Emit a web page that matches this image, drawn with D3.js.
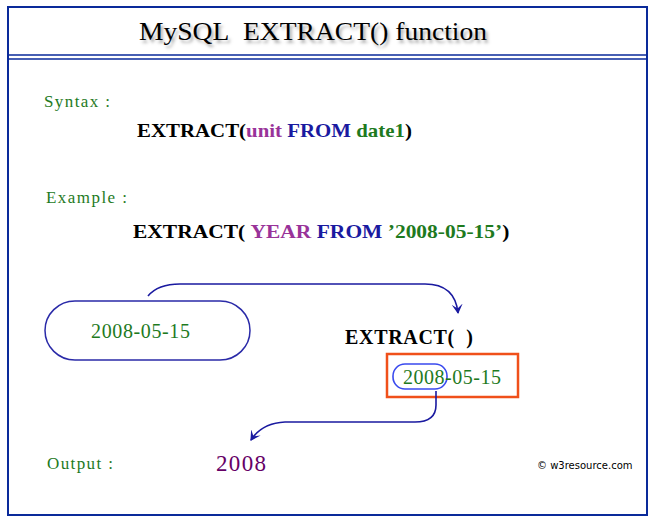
<!DOCTYPE html>
<html><head><meta charset="utf-8">
<script src="https://cdn.jsdelivr.net/npm/d3@7"></script>
<style>body{margin:0;background:#fff} svg text{font-family:"Liberation Serif","Times New Roman",serif}</style>
</head><body>
<script>
// text pieces of the diagram
const titleText = ["MySQL\u00a0\u00a0EXTRACT() function"];
const labels = [
  {t: "Syntax :", x: 44, y: 107, c: "#1e7a1e", s: 17, w: 66},
  {t: "Example :", x: 46, y: 203, c: "#1e7a1e", s: 17, w: 81},
  {t: "Output :", x: 47, y: 469, c: "#1e7a1e", s: 17, w: 66}
];
const syntaxParts = [["EXTRACT(", "#000"], ["unit ", "#993399"], ["FROM ", "#1a1aa0"], ["date1", "#1e7a1e"], [")", "#000"]];
const exampleParts = [["EXTRACT( ", "#000"], ["YEAR ", "#993399"], ["FROM ", "#1a1aa0"], ["\u20192008-05-15\u2019", "#1e7a1e"], [")", "#000"]];
const dateValue = "2008-05-15";
const outputValue = "2008";

const svg = d3.select("body").append("svg").attr("width", 655).attr("height", 519);

svg.append("defs").append("marker").attr("id", "ah").attr("viewBox", "0 0 10 10")
  .attr("refX", 8).attr("refY", 5).attr("markerWidth", 7).attr("markerHeight", 7)
  .attr("orient", "auto").append("path").attr("d", "M0,0 L9,5 L0,10 L4,5 Z").attr("fill", "#1a1aa0");

svg.append("rect").attr("x", 8).attr("y", 7).attr("width", 639).attr("height", 508)
  .attr("fill", "none").attr("stroke", "#0a2a9a").attr("stroke-width", 2);
svg.selectAll("line.div").data([55, 59]).join("line").attr("class", "div")
  .attr("x1", 8).attr("x2", 647).attr("y1", d => d).attr("y2", d => d)
  .attr("stroke", "#0a2a9a").attr("stroke-width", 1.6);

svg.selectAll("text.title").data(titleText).join("text").attr("class", "title")
  .attr("x", 139).attr("y", 40).attr("font-size", 25)
  .attr("textLength", 348).attr("lengthAdjust", "spacingAndGlyphs")
  .style("text-shadow", "2px 3px 3px #aaa").text(d => d);

svg.selectAll("text.lab").data(labels).join("text").attr("class", "lab")
  .attr("x", d => d.x).attr("y", d => d.y).attr("fill", d => d.c).attr("font-size", d => d.s)
  .attr("textLength", d => d.w).text(d => d.t);

function rich(parts, x, y, w) {
  const t = svg.append("text").attr("x", x).attr("y", y).attr("font-size", 19).attr("font-weight", "bold");
  t.selectAll("tspan").data(parts).join("tspan").attr("fill", d => d[1]).text(d => d[0]);
  const bw = t.node().getComputedTextLength();
  t.attr("transform", `translate(${x},0) scale(${w / bw},1) translate(${-x},0)`);
}
rich(syntaxParts, 137, 137, 275);
rich(exampleParts, 133, 238, 376);

// pill with date
svg.append("rect").attr("x", 45).attr("y", 301).attr("width", 205).attr("height", 59).attr("rx", 30)
  .attr("fill", "none").attr("stroke", "#2a2aa8").attr("stroke-width", 1.5);
svg.append("text").attr("x", 91).attr("y", 338).attr("font-size", 20)
  .attr("textLength", 99).attr("fill", "#1e7a1e").text(dateValue);

// arrow 1
svg.append("path").attr("d", "M148,296 Q158,284 180,284 L425,284 Q455,284 458,313")
  .attr("fill", "none").attr("stroke", "#1a1aa0").attr("stroke-width", 1.6).attr("marker-end", "url(#ah)");

svg.append("text").attr("x", 345).attr("y", 344).attr("font-size", 20).attr("font-weight", "bold")
  .attr("textLength", 128).text("EXTRACT(\u00a0\u00a0)");

// red box
svg.append("rect").attr("x", 387).attr("y", 354).attr("width", 131).attr("height", 43)
  .attr("fill", "none").attr("stroke", "#f0501a").attr("stroke-width", 2.5);
svg.append("rect").attr("x", 393).attr("y", 364).attr("width", 54).attr("height", 25).attr("rx", 12)
  .attr("fill", "none").attr("stroke", "#3a4aee").attr("stroke-width", 1.6);
svg.append("text").attr("x", 403).attr("y", 384).attr("font-size", 20)
  .attr("textLength", 98).attr("fill", "#1e7a1e").text(dateValue);

// arrow 2
svg.append("path").attr("d", "M436,391 L436,405 Q436,422 415,422 L285,422 Q262,423 251,440")
  .attr("fill", "none").attr("stroke", "#1a1aa0").attr("stroke-width", 1.6).attr("marker-end", "url(#ah)");

svg.append("text").attr("x", 216).attr("y", 471).attr("font-size", 23)
  .attr("textLength", 50).attr("fill", "#660066").text(outputValue);
svg.append("text").attr("x", 537).attr("y", 469).attr("font-size", 10)
  .style("font-family", "'DejaVu Sans', sans-serif").text("\u00a9 w3resource.com");
</script>
</body></html>
